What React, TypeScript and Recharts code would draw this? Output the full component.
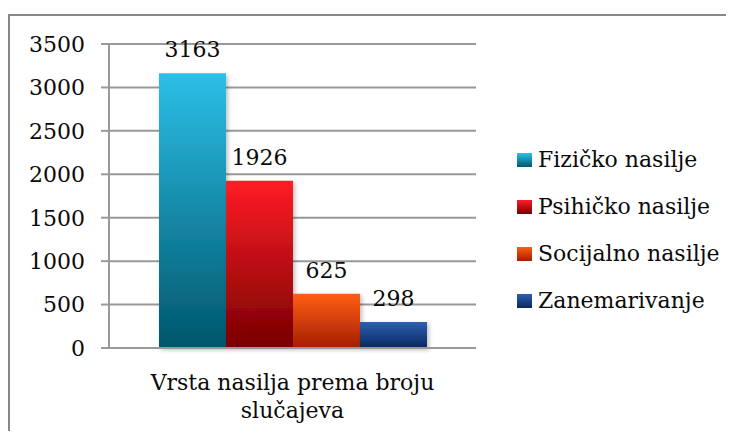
import { BarChart, Bar, XAxis, YAxis, CartesianGrid, Legend, LabelList } from 'recharts';

const category = 'Vrsta nasilja prema broju slučajeva';
const seriesNames = ['Fizičko nasilje', 'Psihičko nasilje', 'Socijalno nasilje', 'Zanemarivanje'];
const seriesKeys = ['fizicko', 'psihicko', 'socijalno', 'zanemarivanje'];
const seriesValues = [3163, 1926, 625, 298];
const yTicks = [0, 500, 1000, 1500, 2000, 2500, 3000, 3500];

// top / bottom colours of each bar gradient
const gradients = [
    ['#2cc0e8', '#00566b'],
    ['#ff1c26', '#780000'],
    ['#ff5e14', '#a41e00'],
    ['#2d60b0', '#08275f'],
];

const FONT = '"DejaVu Serif", serif';
const FONT_SIZE = 22;

const row: { [key: string]: string | number } = { name: category };
seriesKeys.forEach((k, i) => {
    row[k] = seriesValues[i];
});
const data = [row];

function CategoryTick(props: any) {
    const { x, y, payload } = props;
    const words = String(payload.value).split(' ');
    const line1 = words.slice(0, 4).join(' ');
    const line2 = words.slice(4).join(' ');
    return (
        <text x={x} y={y} textAnchor="middle" fill="#0a0a0a" fontFamily={FONT} fontSize={FONT_SIZE}>
            <tspan x={x} dy={34}>{line1}</tspan>
            <tspan x={x} dy={28}>{line2}</tspan>
        </text>
    );
}

function LegendContent() {
    return (
        <div style={{ fontFamily: FONT, fontSize: FONT_SIZE, color: '#0a0a0a' }}>
            {seriesNames.map((name, i) => (
                <div key={name} style={{ display: 'flex', alignItems: 'center', height: 47 }}>
                    <span
                        style={{
                            width: 15,
                            height: 14,
                            marginRight: 6,
                            background: `linear-gradient(${gradients[i][0]}, ${gradients[i][1]})`,
                        }}
                    />
                    <span>{name}</span>
                </div>
            ))}
        </div>
    );
}

export default function App() {
    return (
        <div
            style={{
                marginTop: 6,
                width: 726,
                height: 415,
                borderTop: '2px solid #888',
                borderLeft: '2px solid #888',
                background: '#fff',
                overflow: 'hidden',
            }}
        >
            <BarChart
                width={724}
                height={413}
                data={data}
                margin={{ top: 28, right: 258, left: 0, bottom: 0 }}
                barCategoryGap={50}
                barGap={0}
            >
                <defs>
                    {gradients.map((g, i) => (
                        <linearGradient key={i} id={`grad${i}`} x1="0" y1="0" x2="0" y2="1">
                            <stop offset="0%" stopColor={g[0]} />
                            <stop offset="100%" stopColor={g[1]} />
                        </linearGradient>
                    ))}
                    <filter id="shadow" x="-10%" y="-10%" width="130%" height="130%">
                        <feDropShadow dx="2" dy="2" stdDeviation="2" floodColor="#000" floodOpacity="0.25" />
                    </filter>
                </defs>
                <CartesianGrid vertical={false} stroke="#999" strokeWidth={2} />
                <XAxis
                    dataKey="name"
                    height={81}
                    stroke="#999"
                    strokeWidth={2}
                    tickLine={false}
                    tick={<CategoryTick />}
                />
                <YAxis
                    width={99}
                    domain={[0, 3500]}
                    ticks={yTicks}
                    stroke="#999"
                    strokeWidth={2}
                    tickSize={8}
                    tickMargin={16}
                    tick={{ fill: '#0a0a0a', fontFamily: FONT, fontSize: FONT_SIZE }}
                />
                <Legend
                    layout="vertical"
                    align="center"
                    verticalAlign="middle"
                    wrapperStyle={{ left: 507, top: 120, width: 222 }}
                    content={<LegendContent />}
                />
                {seriesKeys.map((key, i) => (
                    <Bar
                        key={key}
                        dataKey={key}
                        name={seriesNames[i]}
                        fill={`url(#grad${i})`}
                        filter="url(#shadow)"
                        isAnimationActive={false}
                    >
                        <LabelList
                            dataKey={key}
                            position="top"
                            offset={16}
                            fill="#0a0a0a"
                            fontFamily={FONT}
                            fontSize={FONT_SIZE}
                        />
                    </Bar>
                ))}
            </BarChart>
        </div>
    );
}
